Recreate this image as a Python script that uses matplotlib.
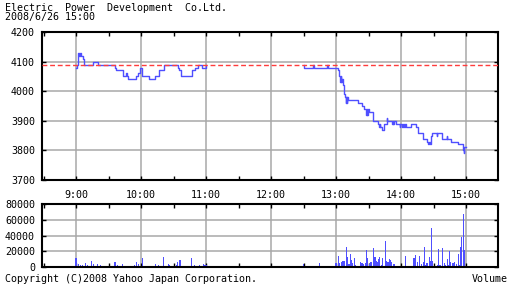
import matplotlib
matplotlib.use('Agg')
import matplotlib.pyplot as plt
from matplotlib.ticker import MultipleLocator, FixedLocator

# Price ticks (step line), morning and afternoon sessions
am_times = ["9:00", "9:00:30", "9:01:30", "9:03", "9:04", "9:04:40", "9:06:30", "9:07:40",
            "9:15:40", "9:20:30", "9:36", "9:37:20", "9:43", "9:46:30", "9:47:10", "9:48",
            "9:55:40", "9:57:30", "9:59", "10:00:40", "10:07:20", "10:13:10", "10:16:30",
            "10:21:40", "10:34", "10:35:10", "10:36:30", "10:47:30", "10:49:30", "10:53",
            "10:56:30", "11:00"]
am_prices = [4080, 4090, 4130, 4120, 4130, 4120, 4110, 4090,
             4100, 4090, 4080, 4070, 4050, 4060, 4050, 4040,
             4050, 4060, 4080, 4050, 4040, 4050, 4070,
             4090, 4080, 4070, 4050, 4070, 4080, 4090,
             4080, 4090]

pm_times = ["12:30", "12:30:30", "12:39", "12:40", "12:52", "12:53", "13:02", "13:03",
            "13:04", "13:04:30", "13:05", "13:05:30", "13:06", "13:07", "13:08", "13:09",
            "13:09:30", "13:10", "13:10:30", "13:11", "13:20", "13:24", "13:26", "13:28",
            "13:28:30", "13:29", "13:29:30", "13:30", "13:34", "13:39", "13:40", "13:40:30",
            "13:41", "13:42", "13:44", "13:47", "13:47:30", "13:52", "13:52:30", "13:53",
            "13:53:30", "13:55", "13:59", "13:59:30", "14:01", "14:01:30", "14:03", "14:03:30",
            "14:05", "14:09", "14:14", "14:16", "14:20", "14:24", "14:25", "14:26",
            "14:27", "14:28", "14:28:30", "14:33", "14:33:30", "14:38", "14:42", "14:42:30",
            "14:46", "14:53", "14:57", "14:58", "14:58:30", "15:00"]
pm_prices = [4090, 4080, 4090, 4080, 4090, 4080, 4070, 4050,
             4030, 4050, 4030, 4040, 4020, 3990, 3980, 3960,
             3980, 3960, 3980, 3970, 3960, 3950, 3940, 3920,
             3940, 3920, 3940, 3930, 3900, 3890, 3880, 3890,
             3880, 3870, 3890, 3910, 3900, 3890, 3900, 3890,
             3900, 3890, 3880, 3890, 3880, 3890, 3880, 3890,
             3880, 3890, 3880, 3860, 3840, 3830, 3820, 3830,
             3820, 3850, 3860, 3850, 3860, 3840, 3850, 3840,
             3830, 3820, 3800, 3790, 3810, 3810]

prev_close = 4090

# Volume per minute
vol_times = ["9:00", "9:02", "9:04", "9:06", "9:07", "9:09", "9:11", "9:12", "9:14", "9:16",
             "9:20", "9:23", "9:25", "9:28", "9:33", "9:34", "9:36", "9:38", "9:43", "9:45",
             "9:47", "9:54", "9:56", "9:58", "10:01", "10:02", "10:06", "10:13", "10:16", "10:21",
             "10:25", "10:26", "10:33", "10:34", "10:36", "10:39", "10:47", "10:49", "10:54", "10:55",
             "10:58", "10:59", "11:00",
             "12:30", "12:35", "12:40", "12:45", "12:49", "12:52", "13:00", "13:02", "13:03", "13:05",
             "13:06", "13:07", "13:08", "13:10", "13:11", "13:12", "13:13", "13:14", "13:15", "13:17",
             "13:18", "13:19", "13:23", "13:24", "13:25", "13:27", "13:28", "13:29", "13:31", "13:32",
             "13:33", "13:35", "13:36", "13:37", "13:38", "13:39", "13:40", "13:42", "13:43", "13:46",
             "13:47", "13:48", "13:49", "13:50", "13:51", "13:53", "13:54", "13:56", "13:57", "13:59",
             "14:04", "14:07", "14:12", "14:13", "14:15", "14:17", "14:19", "14:21", "14:22", "14:23",
             "14:24", "14:26", "14:27", "14:28", "14:29", "14:34", "14:35", "14:36", "14:38", "14:40",
             "14:41", "14:43", "14:44", "14:45", "14:46", "14:48", "14:49", "14:51", "14:53", "14:54",
             "14:55", "14:56", "14:58", "14:59"]
vol_values = [11000, 4000, 2000, 3000, 1500, 5500, 3000, 1500, 7000, 3300,
              4000, 2000, 1500, 1500, 1500, 1200, 6000, 3000, 4000, 1500,
              1200, 2000, 6000, 3500, 11000, 1500, 1200, 4000, 3000, 13000,
              4000, 3000, 3000, 6500, 9000, 1500, 11000, 2000, 2000, 1200,
              3300, 2500, 2500,
              3750, 800, 800, 5000, 800, 1250, 5000, 13750, 4500, 6000,
              7500, 7500, 7500, 26000, 12500, 3300, 16000, 9000, 4500, 11000,
              2000, 1250, 6000, 5400, 3300, 5400, 21000, 11000, 3300, 6250,
              6700, 24000, 13000, 7500, 6700, 10000, 13000, 3000, 12000, 32500,
              7500, 6250, 10000, 8750, 6250, 3300, 3300, 1600, 1250, 800,
              13750, 1250, 11000, 15000, 6000, 13750, 3300, 6250, 25000, 2000,
              4600, 13000, 7500, 49000, 8000, 2500, 22500, 2000, 24000, 4600,
              3000, 9600, 2500, 20000, 6250, 4600, 6250, 3300, 16000, 2500,
              26000, 37500, 67500, 21000]

hour_labels = ["9:00", "10:00", "11:00", "12:00", "13:00", "14:00", "15:00"]


def to_min(s):
    parts = [int(p) for p in s.split(':')]
    m = parts[0] * 60 + parts[1]
    if len(parts) == 3:
        m += parts[2] / 60
    return m


plt.rcParams['font.family'] = ['DejaVu Sans Mono']
plt.rcParams['font.size'] = 7.2

blue = '#4f4fff'
grid_c = '#a8a8a8'
xmin, xmax = 508.6, 929.5
hours = [to_min(h) for h in hour_labels]
halves = [h + 30 for h in hours[:-1]] + [hours[0] - 30]

fig = plt.figure(figsize=(5.12, 2.88), dpi=100)
ax = fig.add_axes([42 / 512, 1 - 180 / 288, 456 / 512, 148 / 288])
axv = fig.add_axes([42 / 512, 1 - 267 / 288, 456 / 512, 63 / 288])

for a in (ax, axv):
    a.set_xlim(xmin, xmax)
    a.xaxis.set_major_locator(FixedLocator(hours))
    a.xaxis.set_minor_locator(FixedLocator(halves))
    a.tick_params(which='both', direction='in', length=3, width=1,
                  top=True, right=True, colors='black')
    a.grid(True, which='major', color=grid_c, linewidth=1.1)
    a.set_axisbelow(True)
    for s in a.spines.values():
        s.set_linewidth(1.5)

# Price chart
ax.step([to_min(t) for t in am_times], am_prices, where='post', color=blue, lw=1.0)
ax.step([to_min(t) for t in pm_times], pm_prices, where='post', color=blue, lw=1.0)
ax.axhline(prev_close, color='#ff3c3c', lw=1.0, dashes=(3.5, 2), zorder=5)
ax.set_ylim(3700, 4200)
ax.yaxis.set_major_locator(MultipleLocator(100))
ax.set_xticklabels(hour_labels)
ax.tick_params(axis='x', pad=7)
ax.tick_params(axis='y', pad=5)

# Volume chart
axv.bar([to_min(t) for t in vol_times], vol_values, width=1.0, color=blue,
        linewidth=0, antialiased=False)
axv.set_ylim(0, 80000)
axv.yaxis.set_major_locator(MultipleLocator(20000))
axv.set_xticklabels([])
axv.tick_params(axis='y', pad=5)

fig.text(5 / 512, 1 - 3 / 288, "Electric  Power  Development  Co.Ltd.", va='top', ha='left')
fig.text(5 / 512, 1 - 12 / 288, "2008/6/26 15:00", va='top', ha='left')
fig.text(5 / 512, 1 - 282 / 288, "Copyright (C)2008 Yahoo Japan Corporation.", va='baseline', ha='left')
fig.text(508 / 512, 1 - 282 / 288, "Volume", va='baseline', ha='right')

fig.savefig('out.png', dpi=100, facecolor='white')
